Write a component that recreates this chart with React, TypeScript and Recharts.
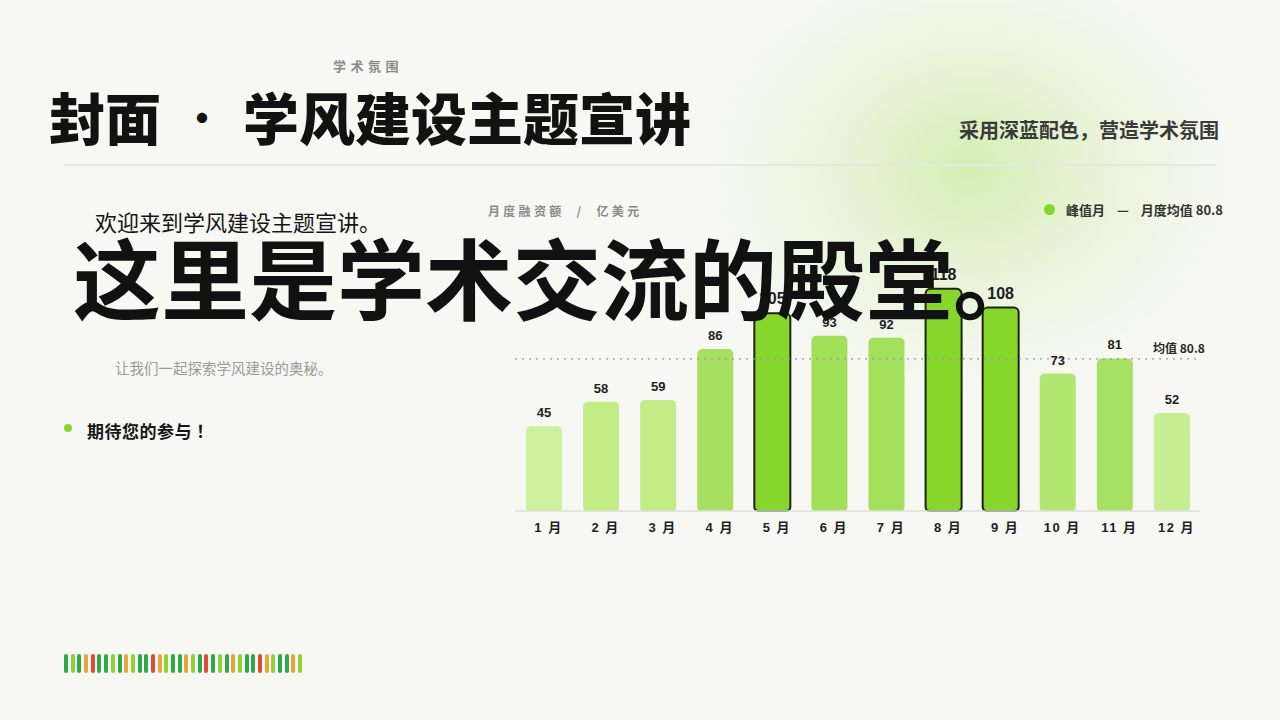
import { BarChart, Bar, XAxis, YAxis, ReferenceLine, LabelList, Cell } from 'recharts'

const months = ['1 月', '2 月', '3 月', '4 月', '5 月', '6 月', '7 月', '8 月', '9 月', '10 月', '11 月', '12 月']
const amounts = [45, 58, 59, 86, 105, 93, 92, 118, 108, 73, 81, 52]
const peakMonths = ['5 月', '8 月', '9 月']
const barColors = ['#cdf09a', '#c3ec87', '#c2ec86', '#a7e061', '#86d62c', '#a2e05a', '#a3e05b', '#86d62c', '#86d62c', '#b1e771', '#a7e164', '#c7ee91']
const avgValue = 80.8

const stripeColors = ['D', 'L', 'D', 'O', 'R', 'D', 'D', 'L', 'D', 'O', 'L', 'D', 'D', 'R', 'O', 'L', 'D', 'D', 'O', 'L', 'D', 'R', 'D', 'L', 'D', 'O', 'L', 'D', 'D', 'R', 'O', 'L', 'D', 'D', 'O', 'L']
const stripeMap: Record<string, string> = { D: '#2fa84b', L: '#8ed235', O: '#e9a53c', R: '#dc4b3c' }

const data = months.map((m, i) => ({ month: m, value: amounts[i] }))

const FONT = '"Noto Sans CJK SC", "Noto Sans", sans-serif'
const NUM_FONT = '"Liberation Sans", Arial, "Noto Sans CJK SC", sans-serif'

function MonthTick(props: any) {
    const { x, y, payload } = props
    return (
        <text x={x + 5} y={y + 8} textAnchor="middle" dominantBaseline="central"
            fontFamily={NUM_FONT} fontSize={13} fontWeight={700} fill="#1e1e1e" letterSpacing={1.5}>
            {payload.value}
        </text>
    )
}

function ValueLabel(props: any) {
    const { x, y, width, value, index } = props
    const peak = peakMonths.includes(months[index])
    return (
        <text x={x + width / 2} y={y - 9} textAnchor="middle" fontFamily={NUM_FONT}
            fontSize={peak ? 16 : 13} fontWeight={700} fill="#1e1e1e">
            {value}
        </text>
    )
}

function AvgLabel(props: any) {
    const { viewBox } = props
    return (
        <text x={viewBox.x + viewBox.width - 47} y={viewBox.y - 6} fontFamily={FONT}
            fontSize={12} fontWeight={700} fill="#2a2a2a">
            均值 {avgValue}
        </text>
    )
}

export default function App() {
    return (
        <div style={{ position: 'relative', width: 1280, height: 720, overflow: 'hidden', background: '#f7f8f3', fontFamily: FONT }}>
            <style>{`body{margin:0}`}</style>
            <div style={{ position: 'absolute', left: 700, top: -50, width: 540, height: 440, borderRadius: '50%',
                background: 'radial-gradient(closest-side, rgba(206,236,168,0.85), rgba(220,240,195,0.45) 55%, rgba(247,248,243,0) 100%)' }} />

            <div style={{ position: 'absolute', left: 333, top: 56, fontSize: 13, letterSpacing: 4.5, color: '#8a8a8a', fontWeight: 700 }}>学术氛围</div>
            <div style={{ position: 'absolute', left: 49, top: 82, fontSize: 56, fontWeight: 900, color: '#121212', lineHeight: '68px', whiteSpace: 'nowrap' }}>
                <span>封面</span>
                <span style={{ display: 'inline-block', width: 82, textAlign: 'center', fontSize: 40, fontWeight: 700, verticalAlign: 'top' }}>·</span>
                <span>学风建设主题宣讲</span>
            </div>
            <div style={{ position: 'absolute', right: 61, top: 115, fontSize: 20, fontWeight: 700, color: '#3a3a3a', whiteSpace: 'nowrap' }}>采用深蓝配色，营造学术氛围</div>
            <div style={{ position: 'absolute', left: 63, top: 164, width: 1153, height: 2, background: '#e5e8df' }} />

            <div style={{ position: 'absolute', left: 488, top: 202, fontSize: 12, letterSpacing: 3.3, color: '#8a8a8a', fontWeight: 700, whiteSpace: 'nowrap' }}>月度融资额 &nbsp;/&nbsp; 亿美元</div>
            <div style={{ position: 'absolute', left: 1044, top: 200, display: 'flex', alignItems: 'center', fontSize: 13, fontWeight: 700, color: '#333', whiteSpace: 'nowrap' }}>
                <span style={{ display: 'inline-block', width: 11, height: 11, borderRadius: '50%', background: '#84d62c', marginRight: 11 }} />
                <span>峰值月</span>
                <span style={{ margin: '0 12px' }}>—</span>
                <span>月度均值 80.8</span>
            </div>

            <div style={{ position: 'absolute', left: 508, top: 240 }}>
                <BarChart width={720} height={320} data={data} margin={{ top: 45, right: 28, left: 7, bottom: 19 }} barSize={36}>
                    <XAxis dataKey="month" height={30} tickLine={false} axisLine={{ stroke: '#dcdcd8', strokeWidth: 1.5 }} tick={<MonthTick />} interval={0} />
                    <YAxis hide domain={[0, 120]} />
                    <ReferenceLine y={avgValue} stroke="#9a9a9a" strokeWidth={1.2} strokeDasharray="2 5" label={<AvgLabel />} />
                    <Bar dataKey="value" radius={[5, 5, 4, 4]} isAnimationActive={false}>
                        {data.map((d, i) => (
                            <Cell key={d.month} fill={barColors[i]}
                                stroke={peakMonths.includes(d.month) ? '#1d260f' : 'none'}
                                strokeWidth={peakMonths.includes(d.month) ? 2 : 0} />
                        ))}
                        <LabelList dataKey="value" content={<ValueLabel />} />
                    </Bar>
                </BarChart>
            </div>

            <div style={{ position: 'absolute', left: 95, top: 205, fontSize: 22, color: '#161616', whiteSpace: 'nowrap' }}>欢迎来到学风建设主题宣讲。</div>
            <div style={{ position: 'absolute', left: 73, top: 219, fontSize: 88, fontWeight: 700, color: '#111', whiteSpace: 'nowrap', lineHeight: '112px' }}>这里是学术交流的殿堂。</div>
            <div style={{ position: 'absolute', left: 115, top: 357, fontSize: 14.5, color: '#9a9a9a', whiteSpace: 'nowrap' }}>让我们一起探索学风建设的奥秘。</div>
            <div style={{ position: 'absolute', left: 64, top: 424, width: 8, height: 8, borderRadius: '50%', background: '#84d62c' }} />
            <div style={{ position: 'absolute', left: 87, top: 418, fontSize: 17, fontWeight: 700, color: '#151515', whiteSpace: 'nowrap', letterSpacing: 0.5 }}>期待您的参与 ！</div>

            <div style={{ position: 'absolute', left: 64, top: 654, display: 'flex' }}>
                {stripeColors.map((c, i) => (
                    <div key={i} style={{ width: 4, height: 19, borderRadius: 2, background: stripeMap[c], marginRight: 2.7 }} />
                ))}
            </div>
        </div>
    )
}
